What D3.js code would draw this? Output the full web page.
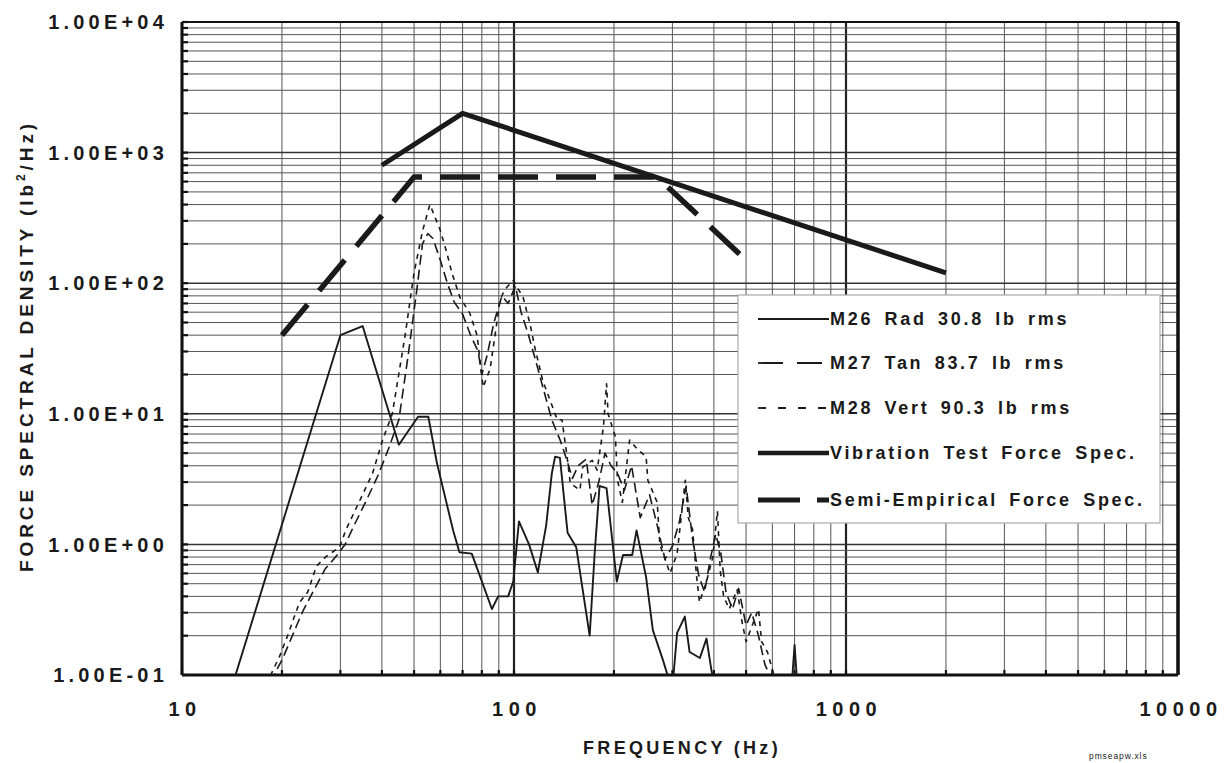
<!DOCTYPE html>
<html>
<head>
<meta charset="utf-8">
<script src="https://cdn.jsdelivr.net/npm/d3@7"></script>
<style>
body { margin: 0; background: #fff; }
text { font-family: "Liberation Sans", Arial, sans-serif; font-weight: bold; fill: #1a1a1a; }
</style>
</head>
<body>
<div class="container"></div>
<script>
// axis labels
var yDecades = [0.1, 1, 10, 100, 1000, 10000];
var yLabels = ['1.00E-01', '1.00E+00', '1.00E+01', '1.00E+02', '1.00E+03', '1.00E+04'];
var xDecades = [10, 100, 1000, 10000];
var xLabels = ['10', '100', '1000', '10000'];

// M26 Rad
var m26Freq = [14, 30, 35, 45, 51.4, 55.2, 58.6, 65.6, 68.5, 74.6, 85.8, 89.6, 96, 99.5, 103.5, 111, 118, 125, 130, 133, 137.5, 145, 154, 169, 175, 181, 190, 204, 213, 227, 234, 250, 262, 281, 290, 300, 310, 327, 338, 363, 380, 393, 410, 680, 700, 720];
var m26Val = [0.075, 40, 47, 5.8, 9.5, 9.5, 4.2, 1.27, 0.87, 0.85, 0.32, 0.4, 0.4, 0.52, 1.5, 1.0, 0.61, 1.4, 3.5, 4.7, 4.6, 1.23, 0.95, 0.2, 0.86, 2.8, 2.7, 0.52, 0.83, 0.83, 1.28, 0.56, 0.22, 0.13, 0.1, 0.08, 0.21, 0.28, 0.15, 0.135, 0.19, 0.11, 0.06, 0.06, 0.17, 0.06];

// M27 Tan
var m27Freq = [17.5, 18.5, 20, 21.5, 23, 25, 27, 29, 31, 33, 36, 39, 42, 45, 48, 51, 53, 55, 57, 60, 63, 66, 70, 74, 78, 80, 83, 87, 92, 96, 101, 105, 110, 116, 123, 130, 138, 144, 150, 156, 165, 172, 180, 188, 196, 205, 215, 226, 240, 256, 270, 285, 300, 315, 330, 345, 360, 375, 390, 405, 420, 435, 455, 475, 500, 520, 545, 570, 600];
var m27Val = [0.07, 0.09, 0.13, 0.2, 0.3, 0.45, 0.65, 0.8, 1.0, 1.4, 2.2, 3.4, 5.5, 9, 28, 90, 200, 240, 220, 150, 100, 72, 58, 40, 30, 20, 28, 50, 80, 70, 95, 60, 42, 26, 15, 9, 6.2, 4.5, 3.2, 4, 4.5, 2.0, 3, 5, 4, 3.5, 2.6, 4, 1.6, 2.4, 1.4, 0.77, 0.97, 1.5, 2.8, 1.1, 0.58, 0.43, 0.77, 1.2, 0.85, 0.43, 0.32, 0.46, 0.24, 0.3, 0.2, 0.12, 0.09];

// M28 Vert
var m28Freq = [18, 18.5, 19.7, 20.8, 21.8, 22.6, 23.9, 25.4, 27.2, 29.8, 31.2, 34.7, 37.5, 40.2, 43, 47, 50, 53, 55.8, 59.8, 62.8, 65, 68.7, 73.6, 77.4, 80.7, 84.7, 87.7, 90.8, 94, 99.4, 106.5, 111.7, 115.6, 122, 128, 135, 139.5, 144.5, 147.7, 158, 161, 172, 178, 186, 190, 192, 202, 205, 212, 223, 236, 250, 253, 270, 275, 295, 310, 328, 335, 345, 355, 362, 380, 397, 410, 418, 428, 445, 470, 487, 500, 545, 557, 580, 600, 620];
var m28Val = [0.07, 0.1, 0.14, 0.2, 0.28, 0.36, 0.43, 0.68, 0.81, 0.95, 1.3, 2.3, 3.5, 6.3, 10, 40, 120, 250, 400, 260, 170, 120, 78, 59, 40, 16, 22, 40, 75, 90, 105, 78, 49, 32, 18, 13, 9, 9, 4.7, 2.95, 2.6, 3.9, 4.4, 3.7, 8, 17, 10, 6.7, 3.1, 2.1, 6.3, 5.3, 4.7, 3.1, 2.1, 1.0, 0.6, 0.85, 3.1, 1.6, 1.3, 0.56, 0.36, 0.52, 0.8, 1.8, 0.63, 0.4, 0.32, 0.45, 0.25, 0.18, 0.32, 0.18, 0.15, 0.11, 0.08];

// Vibration Test Force Spec.
var vibFreq = [40, 70, 2000];
var vibVal = [800, 2000, 120];

// Semi-Empirical Force Spec.
var semiFreq = [20, 50, 270, 500];
var semiVal = [40, 650, 650, 150];

var legendNames = ['M26  Rad  30.8  lb  rms', 'M27  Tan  83.7  lb  rms', 'M28  Vert  90.3  lb  rms', 'Vibration  Test  Force  Spec.', 'Semi-Empirical  Force  Spec.'];

var width = 1225, height = 763;
var pLeft = 182, pRight = 1178, pTop = 22, pBottom = 675;

var svg = d3.select('.container')
    .append('svg')
    .attr('width', width)
    .attr('height', height);

var x = d3.scaleLog().domain([10, 10000]).range([pLeft, pRight]);
var y = d3.scaleLog().domain([0.1, 10000]).range([pBottom, pTop]);

function isDecade(d) {
    var l = Math.log10(d);
    return Math.abs(l - Math.round(l)) < 1e-6;
}

// grid
svg.append('g')
    .selectAll('line')
    .data(x.ticks())
    .enter()
    .append('line')
    .attr('x1', d => x(d))
    .attr('x2', d => x(d))
    .attr('y1', pTop)
    .attr('y2', pBottom)
    .style('stroke', d => isDecade(d) ? '#222' : '#555')
    .style('stroke-width', d => isDecade(d) ? 2.2 : 1);

svg.append('g')
    .selectAll('line')
    .data(y.ticks())
    .enter()
    .append('line')
    .attr('x1', pLeft)
    .attr('x2', pRight)
    .attr('y1', d => y(d))
    .attr('y2', d => y(d))
    .style('stroke', d => isDecade(d) ? '#333' : '#555')
    .style('stroke-width', d => isDecade(d) ? 1.5 : 1);

// inner ticks
svg.append('g')
    .selectAll('line')
    .data(y.ticks())
    .enter()
    .append('line')
    .attr('x1', pLeft)
    .attr('x2', pLeft + 6)
    .attr('y1', d => y(d))
    .attr('y2', d => y(d))
    .style('stroke', '#111')
    .style('stroke-width', 2.2);

svg.append('g')
    .selectAll('line')
    .data(x.ticks())
    .enter()
    .append('line')
    .attr('x1', d => x(d))
    .attr('x2', d => x(d))
    .attr('y1', pBottom)
    .attr('y2', pBottom - 5)
    .style('stroke', '#111')
    .style('stroke-width', 2.2);

// frame
svg.append('line').attr('x1', pLeft).attr('x2', pRight).attr('y1', pTop).attr('y2', pTop)
    .style('stroke', '#111').style('stroke-width', 2);
svg.append('line').attr('x1', pLeft).attr('x2', pRight).attr('y1', pBottom).attr('y2', pBottom)
    .style('stroke', '#111').style('stroke-width', 3);
svg.append('line').attr('x1', pLeft).attr('x2', pLeft).attr('y1', pTop).attr('y2', pBottom)
    .style('stroke', '#111').style('stroke-width', 3);
svg.append('line').attr('x1', pRight).attr('x2', pRight).attr('y1', pTop).attr('y2', pBottom)
    .style('stroke', '#111').style('stroke-width', 3.5);

// tick labels
svg.selectAll('.ylab')
    .data(yDecades)
    .enter()
    .append('text')
    .attr('class', 'ylab')
    .attr('x', 168)
    .attr('y', d => y(d))
    .attr('dy', '0.36em')
    .attr('text-anchor', 'end')
    .style('font-size', '20px')
    .style('letter-spacing', '4.2px')
    .text((d, i) => yLabels[i]);

svg.selectAll('.xlab')
    .data(xDecades)
    .enter()
    .append('text')
    .attr('class', 'xlab')
    .attr('x', d => x(d) + 3)
    .attr('y', 716)
    .attr('text-anchor', 'middle')
    .style('font-size', '20px')
    .style('letter-spacing', '5.5px')
    .text((d, i) => xLabels[i]);

// axis titles
svg.append('text')
    .attr('x', 682)
    .attr('y', 754)
    .attr('text-anchor', 'middle')
    .style('font-size', '18px')
    .style('letter-spacing', '3.3px')
    .text('FREQUENCY (Hz)');

var yt = svg.append('text')
    .attr('transform', 'translate(33,346) rotate(-90)')
    .attr('text-anchor', 'middle')
    .style('font-size', '19px')
    .style('letter-spacing', '3.9px');
yt.append('tspan').text('FORCE SPECTRAL DENSITY (lb');
yt.append('tspan').attr('dy', -8).style('font-size', '12px').text('2');
yt.append('tspan').attr('dy', 8).text('/Hz)');

svg.append('text')
    .attr('x', 1089)
    .attr('y', 759)
    .style('font-size', '8.5px')
    .style('letter-spacing', '0.9px')
    .style('font-weight', 'normal')
    .text('pmseapw.xls');

// data
svg.append('clipPath')
    .attr('id', 'plotclip')
    .append('rect')
    .attr('x', pLeft)
    .attr('y', pTop)
    .attr('width', pRight - pLeft)
    .attr('height', pBottom - pTop);

var line = d3.line()
    .x(d => x(d[0]))
    .y(d => y(d[1]));

function pairs(f, v) {
    return f.map((d, i) => [d, v[i]]);
}

var series = [
    { pts: pairs(m27Freq, m27Val), w: 1.6, dash: '10,5' },
    { pts: pairs(m28Freq, m28Val), w: 1.6, dash: '5,5' },
    { pts: pairs(m26Freq, m26Val), w: 1.9, dash: null },
    { pts: pairs(semiFreq, semiVal), w: 5.5, dash: '40,18' },
    { pts: pairs(vibFreq, vibVal), w: 5, dash: null }
];

var g = svg.append('g').attr('clip-path', 'url(#plotclip)');

series.forEach(function(s) {
    g.append('path')
        .attr('d', line(s.pts))
        .style('fill', 'none')
        .style('stroke', '#1a1a1a')
        .style('stroke-width', s.w)
        .style('stroke-linejoin', 'round')
        .style('stroke-dasharray', s.dash);
});

// legend
var lg = svg.append('g');
lg.append('rect')
    .attr('x', 738)
    .attr('y', 295)
    .attr('width', 422)
    .attr('height', 228)
    .style('fill', '#fff')
    .style('stroke', '#aaa')
    .style('stroke-width', 1.2);

var legendStyle = [
    { w: 1.8, dash: null },
    { w: 1.8, dash: '25,14' },
    { w: 1.8, dash: '8,12' },
    { w: 4.5, dash: null },
    { w: 5, dash: '42,17' }
];
var rowY = [319, 363, 408, 453, 500];

legendNames.forEach(function(name, i) {
    lg.append('line')
        .attr('x1', 758)
        .attr('x2', 829)
        .attr('y1', rowY[i])
        .attr('y2', rowY[i])
        .style('stroke', '#1a1a1a')
        .style('stroke-width', legendStyle[i].w)
        .style('stroke-dasharray', legendStyle[i].dash);
    lg.append('text')
        .attr('x', 830)
        .attr('y', rowY[i])
        .attr('dy', '0.36em')
        .style('font-size', '18px')
        .style('letter-spacing', '2.7px')
        .style('word-spacing', '-2px')
        .style('white-space', 'pre')
        .text(name);
});
</script>
</body>
</html>
